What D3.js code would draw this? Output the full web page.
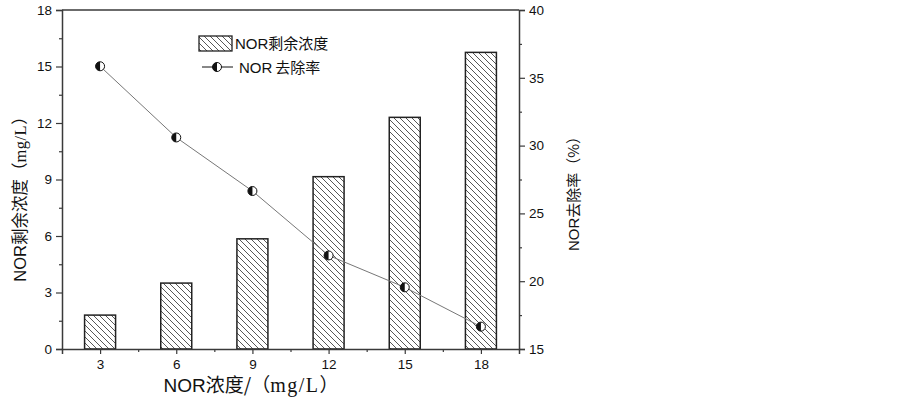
<!DOCTYPE html>
<html><head><meta charset="utf-8">
<script src="https://cdn.jsdelivr.net/npm/d3@7"></script>
<style>body{margin:0;background:#fff}svg{display:block}</style>
</head><body>
<svg id="c" width="903" height="399"></svg>
<script>
const categories = [3, 6, 9, 12, 15, 18];
const residual = [1.8, 3.5, 5.85, 9.15, 12.3, 15.75];
const removal = [35.85, 30.6, 26.65, 21.9, 19.55, 16.65];
const leftTicks = [0, 3, 6, 9, 12, 15, 18];
const rightTicks = [15, 20, 25, 30, 35, 40];

const svg = d3.select("#c");
const L = 62, R = 519, T = 10, B = 349;
const x = d3.scaleLinear().domain([1.5, 19.5]).range([L, R]);
const yL = d3.scaleLinear().domain([0, 18]).range([B, T]);
const yR = d3.scaleLinear().domain([15, 40]).range([B, T]);
const axisColor = "#3a3a3a";
const tickFont = "Arial, 'Liberation Sans', sans-serif";

// hatch pattern
const defs = svg.append("defs");
const pat = defs.append("pattern").attr("id", "hatch").attr("patternUnits", "userSpaceOnUse")
  .attr("width", 6).attr("height", 6);
pat.append("path").attr("d", "M0,0 L6,6 M-1,5 L1,7 M5,-1 L7,1")
  .attr("stroke", "#444").attr("stroke-width", 0.9).attr("fill", "none");

// bars
const bw = 31;
svg.append("g").selectAll("rect").data(categories).join("rect")
  .attr("x", (d) => x(d) - bw / 2)
  .attr("y", (d, i) => yL(residual[i]))
  .attr("width", bw)
  .attr("height", (d, i) => B - yL(residual[i]))
  .attr("fill", "url(#hatch)")
  .attr("stroke", "#222").attr("stroke-width", 1.5);

// frame top line
svg.append("line").attr("x1", L).attr("x2", R).attr("y1", T).attr("y2", T).attr("stroke", axisColor).attr("stroke-width", 1.3);

// left axis
svg.append("g").attr("transform", `translate(${L},0)`)
  .call(d3.axisLeft(yL).tickValues(leftTicks).tickSize(6).tickPadding(4).tickFormat(d3.format("d")));
svg.append("g").attr("transform", `translate(${L},0)`)
  .call(d3.axisLeft(yL).tickValues(d3.range(1.5, 18, 3)).tickSize(3).tickFormat(""))
  .call(g => g.select(".domain").remove());
// right axis
svg.append("g").attr("transform", `translate(${R},0)`)
  .call(d3.axisRight(yR).tickValues(rightTicks).tickSize(6).tickPadding(4).tickFormat(d3.format("d")));
svg.append("g").attr("transform", `translate(${R},0)`)
  .call(d3.axisRight(yR).tickValues(d3.range(17.5, 40, 5)).tickSize(3).tickFormat(""))
  .call(g => g.select(".domain").remove());
// bottom axis
svg.append("g").attr("transform", `translate(0,${B})`)
  .call(d3.axisBottom(x).tickValues(categories).tickSize(5).tickPadding(5).tickFormat(d3.format("d")));
svg.append("g").attr("transform", `translate(0,${B})`)
  .call(d3.axisBottom(x).tickValues(d3.range(4.5, 18, 3)).tickSize(3).tickFormat(""))
  .call(g => g.select(".domain").remove());

svg.selectAll(".domain").attr("stroke", axisColor).attr("stroke-width", 1.5);
svg.selectAll(".tick line").attr("stroke", axisColor).attr("stroke-width", 1.2);
svg.selectAll(".tick text").attr("font-family", tickFont).attr("font-size", 13.5).attr("fill", "#111");

// line series
const line = d3.line().x((d, i) => x(categories[i])).y(d => yR(d));
svg.append("path").datum(removal).attr("d", line).attr("fill", "none")
  .attr("stroke", "#777").attr("stroke-width", 1);

function halfMarker(g, cx, cy) {
  const r = 4.5;
  g.append("circle").attr("cx", cx).attr("cy", cy).attr("r", r).attr("fill", "#fff").attr("stroke", "#111").attr("stroke-width", 1);
  g.append("path").attr("d", `M${cx},${cy - r} A${r},${r} 0 0 0 ${cx},${cy + r} Z`).attr("fill", "#111");
}
const mg = svg.append("g");
removal.forEach((v, i) => halfMarker(mg, x(categories[i]), yR(v)));

// legend
const cjk = "'Noto Sans CJK SC', 'Noto Sans', sans-serif";
svg.append("rect").attr("x", 199).attr("y", 36).attr("width", 33).attr("height", 15)
  .attr("fill", "url(#hatch)").attr("stroke", "#222").attr("stroke-width", 1.3);
svg.append("text").attr("x", 235).attr("y", 49).attr("font-size", 15).attr("fill", "#111")
  .html(`<tspan font-family="${tickFont}">NOR</tspan><tspan font-family="${cjk}">剩余浓度</tspan>`);
svg.append("line").attr("x1", 202).attr("x2", 233).attr("y1", 67).attr("y2", 67).attr("stroke", "#111").attr("stroke-width", 1);
halfMarker(svg.append("g"), 217, 67);
svg.append("text").attr("x", 239).attr("y", 72.5).attr("font-size", 15).attr("fill", "#111")
  .html(`<tspan font-family="${tickFont}">NOR</tspan><tspan font-family="${cjk}" dx="3">去除率</tspan>`);

// axis titles
const serif = "'Liberation Serif', 'DejaVu Serif', serif";
svg.append("text").attr("transform", "translate(26,195) rotate(-90)").attr("text-anchor", "middle")
  .attr("font-size", 16.5).attr("fill", "#111")
  .html(`<tspan font-family="${tickFont}">NOR</tspan><tspan font-family="${cjk}">剩余浓度（</tspan><tspan font-family="${serif}" letter-spacing="0.5">mg/L</tspan><tspan font-family="${cjk}">）</tspan>`);
svg.append("text").attr("transform", "translate(579,190) rotate(-90)").attr("text-anchor", "middle")
  .attr("font-size", 15).attr("fill", "#111")
  .html(`<tspan font-family="${tickFont}">NOR</tspan><tspan font-family="${cjk}">去除率（%）</tspan>`);
svg.append("text").attr("x", 251).attr("y", 392).attr("text-anchor", "middle")
  .attr("font-size", 19).attr("fill", "#111")
  .html(`<tspan font-family="${tickFont}">NOR</tspan><tspan font-family="${cjk}">浓度/（</tspan><tspan font-family="${serif}" font-size="20" letter-spacing="1.5">mg/L</tspan><tspan font-family="${cjk}">）</tspan>`);
</script>
</body></html>
